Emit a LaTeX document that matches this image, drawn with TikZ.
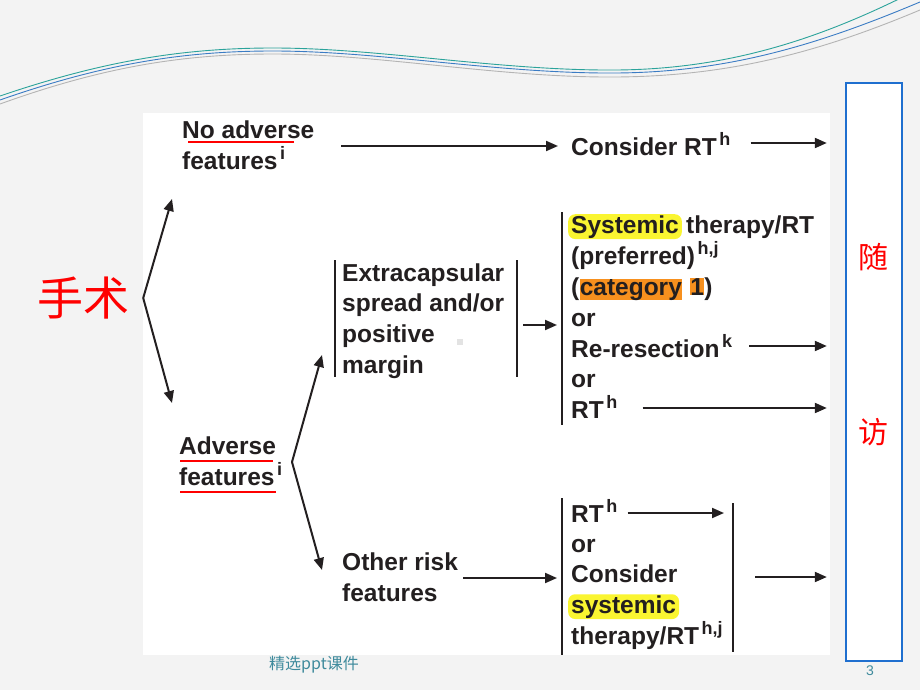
\documentclass[tikz,border=0pt]{standalone}
\usepackage{fontspec}
\setmainfont{Liberation Sans}
\newfontfamily\cjk{Noto Sans CJK SC}
\usetikzlibrary{arrows.meta}

\definecolor{inkgray}{HTML}{231F20}
\definecolor{hlyellow}{HTML}{FAF531}
\definecolor{hlorange}{HTML}{F7901E}
\definecolor{fublue}{HTML}{1F6FCF}
\definecolor{slidebg}{HTML}{F3F3F3}
\definecolor{footteal}{HTML}{3E8A9C}
\definecolor{waveteal}{HTML}{2BA39B}
\definecolor{waveblue}{HTML}{3B7CC4}
\definecolor{wavegray}{HTML}{B4B4B4}

\newcommand\SupTxt[1]{\kern2.5pt\raisebox{10pt}{\fontsize{18}{18}\selectfont #1}}
\newcommand\FlowFont{\bfseries\fontsize{24.5}{29}\selectfont}

\tikzset{
    txt/.style={anchor=base west, inner sep=0pt, font=\FlowFont, text=inkgray},
    hlsys/.style={txt, fill=hlyellow, rounded corners=7pt, inner xsep=3pt, inner ysep=1pt},
    hlcat/.style={txt, fill=hlorange},
    arr/.style={draw=inkgray, line width=2pt, -{Triangle[length=12pt,width=10pt]}},
    bar/.style={draw=inkgray, line width=2pt},
    squig/.style={draw=red, line width=1.4pt},
    wave/.style={line width=0.9pt},
    fubox/.style={draw=fublue, line width=2.4pt, fill=white, minimum width=56pt, minimum height=578pt, inner sep=0pt},
    zh/.style={inner sep=0pt, font=\cjk\fontsize{30}{30}\selectfont, text=red},
}

\begin{document}
\begin{tikzpicture}[x=1pt,y=-1pt]
    \useasboundingbox (0,0) rectangle (920,690);
    % slide
    \fill[slidebg] (0,0) rectangle (920,690);
    \fill[white] (143,113) rectangle (830,655);
    \draw[wave, wavegray] (0,104) .. controls (100,68) and (180,54) .. (273,54) .. controls (380,54) and (500,78) .. (617,77) .. controls (730,76) and (820,52) .. (920,10);
    \draw[wave, waveblue] (0,100) .. controls (100,65) and (180,51) .. (273,51) .. controls (380,51) and (500,74) .. (617,73) .. controls (730,72) and (820,44) .. (920,2);
    \draw[wave, waveteal] (0,96) .. controls (100,62) and (180,48) .. (273,48) .. controls (380,48) and (500,71) .. (617,70) .. controls (730,69) and (820,38) .. (905,-4);

    % follow-up
    \node[fubox] (fu) at (874,372) {};
    \node[zh] (sui) at (873,257) {随};
    \node[zh] (fang) at (873,432) {访};

    % surgery
    \node[zh, font=\cjk\fontsize{46}{46}\selectfont] (op) at (83,298) {手术};
    \node[txt] (noadv1) at (182,138) {No adverse};
    \node[txt] (noadv2) at (182,169) {features\SupTxt{i}};
    \node[txt] (adv1) at (179,454) {Adverse};
    \node[txt] (adv2) at (179,485) {features\SupTxt{i}};
    \coordinate (opfork) at ([xshift=14pt]op.east);
    \draw[arr] (opfork) -- ([shift={(-10,30)}]noadv2.base west);
    \draw[arr] (opfork) -- ([shift={(-7,-51)}]adv1.base west);
    \draw[squig] ([shift={(6,4)}]noadv1.base west) -- ([shift={(-20,4)}]noadv1.base east);
    \draw[squig] ([shift={(1,7)}]adv1.base west) -- ([shift={(-3,7)}]adv1.base east);
    \draw[squig] ([shift={(1,7)}]adv2.base west) -- ++(96,0);

    % no adverse
    \node[txt] (cons) at (571,155) {Consider RT\SupTxt{h}};
    \path (noadv1.base east) ++(27,8) coordinate (na);
    \draw[arr, shorten >=13pt] (na) -- (na -| cons.west);
    \path (cons.base east) ++(20,-12) coordinate (co);
    \draw[arr, shorten >=18pt] (co) -- (co -| fu.west);

    % extracapsular
    \node[txt] (ext1) at (342,281) {Extracapsular};
    \node[txt] (ext2) at (342,311) {spread and/or};
    \node[txt] (ext3) at (342,342) {positive};
    \node[txt] (ext4) at (342,373) {margin};
    \draw[bar] (335,260) coordinate (extLt) -- (335,377) coordinate (extLb);
    \draw[bar] (517,260) coordinate (extRt) -- (517,377) coordinate (extRb);
    \fill[gray!22] (457,339) rectangle (463,345);

    % other risk
    \node[txt] (oth1) at (342,570) {Other risk};
    \node[txt] (oth2) at (342,601) {features};
    \coordinate (advfork) at (292,462);
    \draw[arr] (advfork) -- ([shift={(-13,-22)}]extLb);
    \draw[arr] (advfork) -- ([shift={(-20,0)}]oth1.base west);

    % systemic therapy
    \draw[bar] (562,212) coordinate (sysT) -- (562,425) coordinate (sysB);
    \coordinate (ex) at (517,325);
    \draw[arr, shorten <=6pt, shorten >=5pt] (ex) -- (ex -| sysT);
    \node[hlsys] (sysw) at (568,233) {Systemic};
    \node[txt] (sys1) at ([xshift=4pt]sysw.base east) {therapy/RT};
    \node[txt] (sys2) at (571,264) {(preferred)\SupTxt{h,j}};
    \node[txt] (cat0) at (571,295) {(};
    \node[hlcat] (catw) at (cat0.base east) {category};
    \node[hlcat] (cat1) at ([xshift=8pt]catw.base east) {1};
    \node[txt] (cat2) at (cat1.base east) {)};
    \node[txt] (sys4) at (571,326) {or};
    \node[txt] (resec) at (571,357) {Re-resection\SupTxt{k}};
    \node[txt] (sys6) at (571,387) {or};
    \node[txt] (rt) at (571,418) {RT\SupTxt{h}};
    \path (resec.base east) ++(17,-11) coordinate (rs);
    \draw[arr, shorten >=18pt] (rs) -- (rs -| fu.west);
    \path (rt.base east) ++(25,-10) coordinate (rta);
    \draw[arr, shorten >=18pt] (rta) -- (rta -| fu.west);

    % other risk options
    \draw[bar] (562,498) coordinate (botLt) -- (562,655) coordinate (botLb);
    \draw[bar] (733,503) coordinate (botRt) -- (733,652) coordinate (botRb);
    \node[txt] (brt) at (571,522) {RT\SupTxt{h}};
    \node[txt] (bor) at (571,552) {or};
    \node[txt] (bcons) at (571,582) {Consider};
    \node[hlsys] (bsys) at (568,613) {systemic};
    \node[txt] (bther) at (571,644) {therapy/RT\SupTxt{h,j}};
    \path (oth1.base east) ++(5,8) coordinate (ot);
    \draw[arr, shorten >=5pt] (ot) -- (ot -| botLt);
    \path (brt.base east) ++(10,-9) coordinate (br);
    \draw[arr, shorten >=9pt] (br) -- (br -| botRt);
    \coordinate (bo) at (755,577);
    \draw[arr, shorten >=18pt] (bo) -- (bo -| fu.west);

    % footer
    \node[font=\cjk\fontsize{16}{16}\selectfont, text=footteal] (foot) at (314,665) {精选ppt课件};
    \node[font=\fontsize{14}{14}\selectfont, text=footteal] (pgno) at (870,671) {3};
\end{tikzpicture}
\end{document}
